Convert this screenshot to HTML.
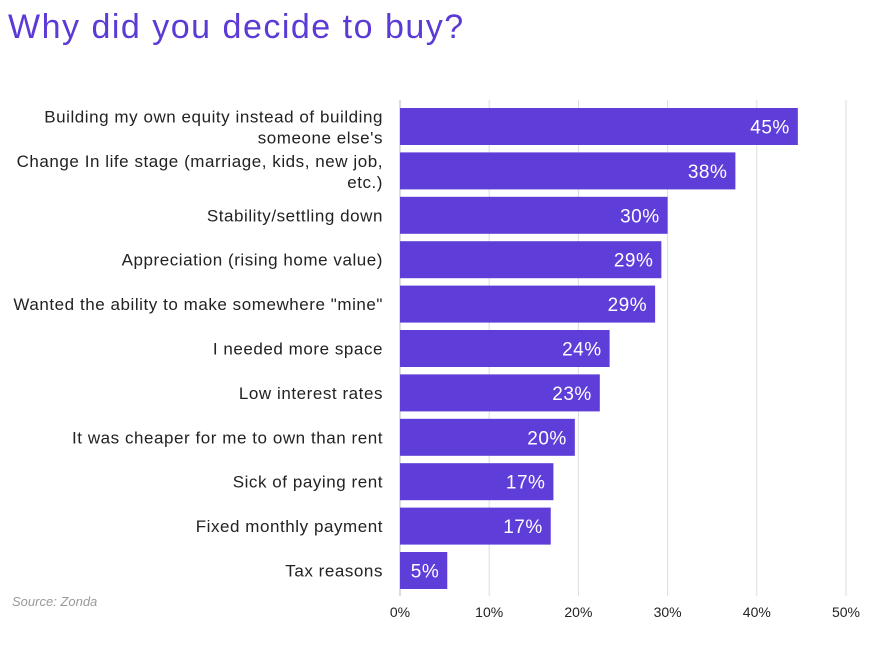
<!DOCTYPE html>
<html><head><meta charset="utf-8"><style>
body{margin:0;background:#fff;width:876px;height:656px;overflow:hidden;font-family:"Liberation Sans",sans-serif}
</style></head><body>
<svg width="876" height="656">
<text x="8" y="38" font-size="34" letter-spacing="1.5" fill="#5b3ad6" font-family="Liberation Sans, sans-serif">Why did you decide to buy?</text>
<text x="12" y="606" font-size="13" font-style="italic" fill="#999">Source: Zonda</text>
<g id="grid"></g><g id="bars"></g><g id="labels"></g><g id="ticks"></g>
</svg>
<script>
const categories=[["Building my own equity instead of building","someone else's"],["Change In life stage (marriage, kids, new job,","etc.)"],["Stability/settling down"],["Appreciation (rising home value)"],["Wanted the ability to make somewhere \"mine\""],["I needed more space"],["Low interest rates"],["It was cheaper for me to own than rent"],["Sick of paying rent"],["Fixed monthly payment"],["Tax reasons"]];
const values=[44.6,37.6,30.0,29.3,28.6,23.5,22.4,19.6,17.2,16.9,5.3];
const labels=["45%","38%","30%","29%","29%","24%","23%","20%","17%","17%","5%"];
const ticks=[0,10,20,30,40,50];
const ns="http://www.w3.org/2000/svg";
const x=v=>400+v*8.92;
const y=i=>108+i*44.4;
const bh=37;
function mk(t,a,p){const e=document.createElementNS(ns,t);for(const k in a)e.setAttribute(k,a[k]);p.appendChild(e);return e;}
const G=document.getElementById('grid'),B=document.getElementById('bars'),L=document.getElementById('labels'),T=document.getElementById('ticks');
ticks.forEach(t=>{
 const l=mk('line',{x1:x(t),x2:x(t),y1:100,y2:596,stroke:t===0?'#bbb':'#ddd','stroke-width':1},G);
 
 
 const tx=mk('text',{x:x(t),y:617,'text-anchor':'middle','font-size':14,fill:'#222'},T);
 tx.textContent=t+'%';
 
 
});
values.forEach((v,i)=>{
 const r=mk('rect',{x:x(0),y:y(i),width:x(v)-x(0),height:bh,fill:'#5f3dd9'},B);
 
 
 const vt=mk('text',{x:x(v)-8,y:y(i)+bh/2+7,'text-anchor':'end','font-size':19,'letter-spacing':0.5,fill:'#fff'},B);
 vt.textContent=labels[i];
 
 
 const c=categories[i];
 const cy=y(i)+bh/2;
 c.forEach((s,j)=>{
  const ty=c.length===1?cy+6:cy-4+j*21;
  const ct=mk('text',{x:383,y:ty,'text-anchor':'end','font-size':17,'letter-spacing':0.55,fill:'#222'},L);
  ct.textContent=s;
  
  
 });
});
</script>
</body></html>
